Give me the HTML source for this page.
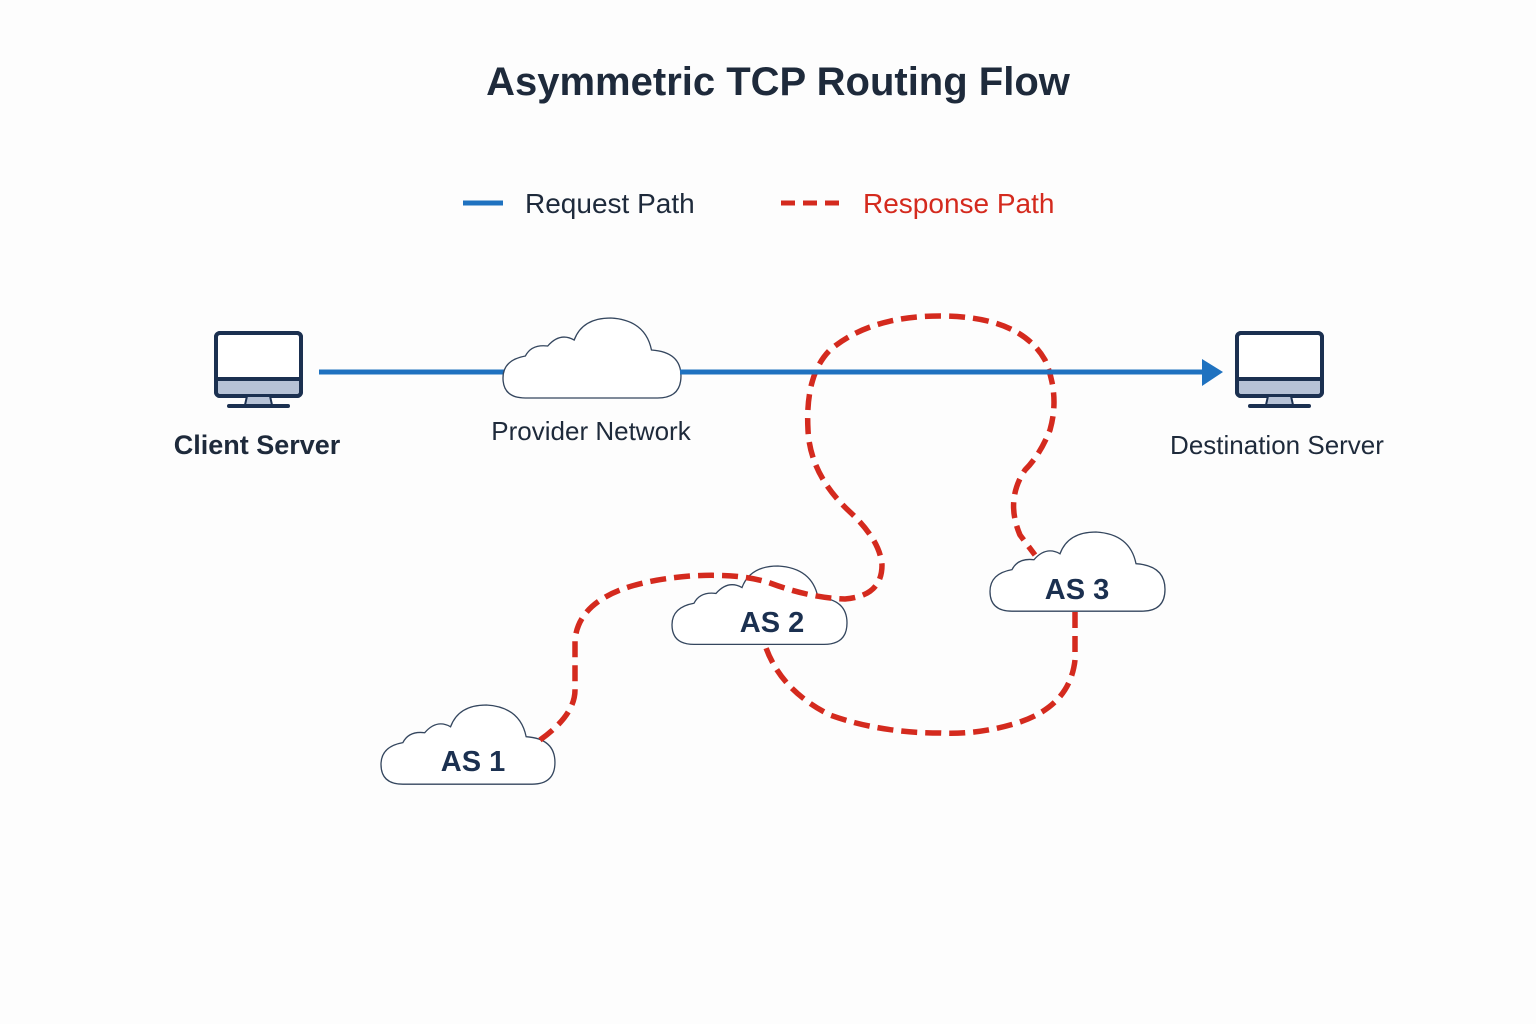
<!DOCTYPE html>
<html><head><meta charset="utf-8"><style>
html,body{margin:0;padding:0;background:#fdfdfd;}
svg{display:block;}
text{font-family:"Liberation Sans","DejaVu Sans",sans-serif;}
</style></head><body>
<svg width="1536" height="1024" viewBox="0 0 1536 1024" xmlns="http://www.w3.org/2000/svg">
<defs>
<path id="cloud" d="M22 80 L152 80 Q175 80 175 58 Q175 34 146 32 Q140 2 106 0 Q78 0 70 22 Q56 14 44 28 Q28 26 22 38 Q0 42 0 60 Q0 80 22 80 Z"/>
<g id="mon">
<rect x="0" y="0" width="85" height="63" rx="4" fill="#fff" stroke="#1b3050" stroke-width="4"/>
<path d="M2 46 H83 V59 Q83 61 81 61 H4 Q2 61 2 59 Z" fill="#b6c2d6"/>
<line x1="0" y1="46" x2="85" y2="46" stroke="#1b3050" stroke-width="4"/>
<rect x="0" y="0" width="85" height="63" rx="4" fill="none" stroke="#1b3050" stroke-width="4"/>
<path d="M31 63 L54 63 L56 72 L29 72 Z" fill="#b6c2d6" stroke="#1b3050" stroke-width="2"/>
<line x1="13" y1="73" x2="72" y2="73" stroke="#1b3050" stroke-width="4" stroke-linecap="round"/>
</g>
</defs>
<text x="778" y="95" text-anchor="middle" font-size="40" font-weight="bold" fill="#1e2a3b">Asymmetric TCP Routing Flow</text>
<line x1="463" y1="203" x2="503" y2="203" stroke="#1f72c0" stroke-width="5"/>
<text x="525" y="213" font-size="28" fill="#1e2a3b">Request Path</text>
<line x1="781" y1="203" x2="846" y2="203" stroke="#d42a1e" stroke-width="5" stroke-dasharray="14 8"/>
<text x="863" y="213" font-size="28" fill="#d42a1e">Response Path</text>

<line x1="319" y1="372" x2="1205" y2="372" stroke="#1f72c0" stroke-width="5"/>
<path d="M1202 359 L1223 372 L1202 386 Z" fill="#1f72c0"/>

<use href="#cloud" transform="translate(503,318) scale(1.017,1)" fill="#fff" stroke="#34465e" stroke-width="1.3"/>
<use href="#cloud" transform="translate(672,566) scale(1,0.98)" fill="#fff" stroke="#34465e" stroke-width="1.3"/>
<use href="#cloud" transform="translate(990,532) scale(1,0.99)" fill="#fff" stroke="#34465e" stroke-width="1.3"/>
<use href="#cloud" transform="translate(381,705) scale(0.994,0.99)" fill="#fff" stroke="#34465e" stroke-width="1.3"/>

<g fill="none" stroke="#d42a1e" stroke-width="5.5" stroke-dasharray="16 8">
<path d="M540 740 Q575 715 575 690 L575 640 Q580 585 690 576 Q740 573 770 583 Q810 598 845 599 Q882 596 882 565 Q880 540 850 512 Q810 475 808 430 Q805 375 830 350 Q870 316 940 316 Q1020 316 1045 360 Q1060 395 1050 430 Q1040 455 1025 470 Q1005 500 1020 535 L1035 555"/>
<path d="M1075 612 L1075 660 Q1070 705 1020 722 Q980 735 940 733 Q880 733 830 715 Q780 690 765 645"/>
</g>
<line x1="680" y1="372" x2="1205" y2="372" stroke="#1f72c0" stroke-width="5"/>

<use href="#mon" x="216" y="333"/>
<use href="#mon" x="1237" y="333"/>

<text x="257" y="454" text-anchor="middle" font-size="27" font-weight="bold" fill="#1e2a3b">Client Server</text>
<text x="591" y="440" text-anchor="middle" font-size="26" fill="#1e2a3b">Provider Network</text>
<text x="1277" y="454" text-anchor="middle" font-size="26" fill="#1e2a3b">Destination Server</text>
<text x="772" y="632" text-anchor="middle" font-size="29" font-weight="bold" fill="#1b3050">AS 2</text>
<text x="1077" y="599" text-anchor="middle" font-size="29" font-weight="bold" fill="#1b3050">AS 3</text>
<text x="473" y="771" text-anchor="middle" font-size="29" font-weight="bold" fill="#1b3050">AS 1</text>
</svg>
</body></html>
